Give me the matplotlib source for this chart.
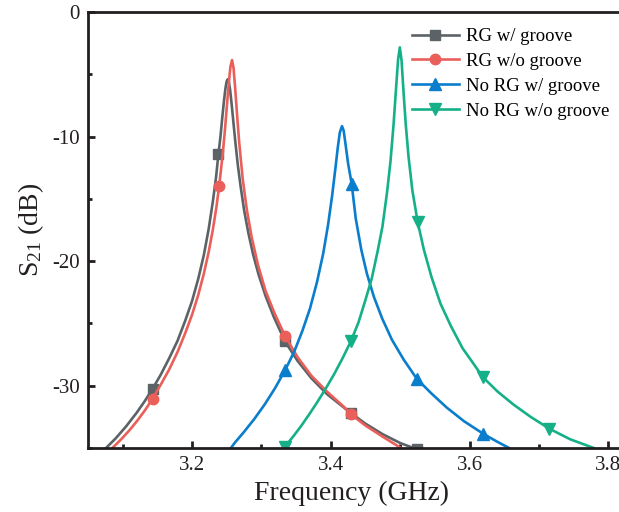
import numpy as np
import matplotlib.pyplot as plt
from matplotlib.ticker import MultipleLocator

plt.rcParams['font.family'] = ['Liberation Serif', 'DejaVu Serif']
plt.rcParams['mathtext.fontset'] = 'stix'
plt.rcParams['axes.unicode_minus'] = False

# RG w/ groove
rg_groove_f = [3.076, 3.09, 3.105, 3.12, 3.132, 3.143, 3.155, 3.167, 3.179, 3.19,
               3.20, 3.209, 3.217, 3.224, 3.230, 3.2345, 3.238, 3.241, 3.2435, 3.246,
               3.248, 3.2498, 3.2514, 3.253, 3.2548, 3.257, 3.2595, 3.2625, 3.266, 3.27,
               3.275, 3.281, 3.288, 3.296, 3.306, 3.318, 3.334, 3.352, 3.372, 3.395,
               3.42, 3.429, 3.45, 3.475, 3.50, 3.524]
rg_groove_db = [-35.0, -34.22, -33.26, -32.18, -31.22, -30.25, -29.1, -27.8, -26.4, -24.8,
                -23.2, -21.4, -19.5, -17.4, -15.2, -13.3, -11.4, -9.98, -8.5, -7.14,
                -6.18, -5.58, -5.4, -5.6, -6.23, -7.37, -8.8, -10.5, -12.3, -14.0,
                -15.9, -17.7, -19.46, -21.1, -22.8, -24.5, -26.45, -28.0, -29.4, -30.7,
                -31.8, -32.2, -33.05, -33.9, -34.6, -35.1]

# RG w/o groove
rg_nogroove_f = [3.0857, 3.098, 3.11, 3.122, 3.133, 3.143, 3.155, 3.167, 3.179, 3.19,
                 3.20, 3.209, 3.217, 3.224, 3.23, 3.235, 3.239, 3.2442, 3.2475, 3.2505,
                 3.253, 3.2553, 3.2576, 3.2598, 3.2622, 3.265, 3.268, 3.273, 3.279, 3.286,
                 3.295, 3.306, 3.319, 3.334, 3.352, 3.372, 3.395, 3.42, 3.429, 3.45,
                 3.475, 3.501]
rg_nogroove_db = [-34.97, -34.29, -33.56, -32.74, -31.9, -31.05, -29.9, -28.7, -27.3, -25.8,
                  -24.3, -22.7, -21.0, -19.25, -17.46, -15.7, -14.0, -11.4, -9.4, -7.34,
                  -5.67, -4.39, -3.86, -4.5, -6.16, -8.35, -10.5, -13.4, -15.9, -18.1,
                  -20.3, -22.4, -24.2, -26.0, -27.7, -29.2, -30.5, -31.75, -32.3, -33.2,
                  -34.1, -35.0]

# No RG w/ groove
norg_groove_f = [3.256, 3.262, 3.275, 3.29, 3.305, 3.32, 3.334, 3.347, 3.359, 3.37,
                 3.38, 3.389, 3.396, 3.402, 3.4065, 3.41, 3.413, 3.4161, 3.4185, 3.4215,
                 3.425, 3.430, 3.436, 3.444, 3.452, 3.462, 3.474, 3.488, 3.505, 3.524,
                 3.545, 3.567, 3.592, 3.620, 3.64, 3.657]
norg_groove_db = [-35.0, -34.55, -33.7, -32.65, -31.48, -30.16, -28.76, -27.3, -25.6, -23.8,
                  -21.7, -19.4, -17.1, -14.7, -12.6, -10.9, -9.67, -9.16, -9.52, -10.73,
                  -12.2, -13.77, -16.6, -19.1, -21.0, -22.85, -24.6, -26.3, -27.9, -29.45,
                  -30.62, -31.75, -32.85, -33.87, -34.5, -35.0]

# No RG w/o groove
norg_nogroove_f = [3.334, 3.346, 3.357, 3.368, 3.38, 3.393, 3.405, 3.417, 3.429, 3.44,
                   3.45, 3.459, 3.4675, 3.4745, 3.481, 3.486, 3.4905, 3.4942, 3.497, 3.4995,
                   3.502, 3.5048, 3.508, 3.512, 3.5175, 3.5252, 3.534, 3.545, 3.558, 3.573,
                   3.59, 3.604, 3.619, 3.64, 3.663, 3.688, 3.715, 3.745, 3.779]
norg_nogroove_db = [-34.89, -34.06, -33.25, -32.37, -31.36, -30.2, -29.05, -27.79, -26.42, -24.9,
                    -23.1, -21.4, -19.2, -17.2, -14.5, -12.0, -9.0, -6.0, -3.8, -2.84,
                    -3.9, -6.4, -9.0, -11.6, -14.3, -16.86, -19.05, -21.25, -23.4, -25.2,
                    -27.0, -28.1, -29.3, -30.45, -31.5, -32.5, -33.45, -34.3, -35.0]

# frequencies where the symbols sit
rg_groove_marks = [3.143, 3.238, 3.334, 3.429, 3.524]
rg_nogroove_marks = [3.143, 3.239, 3.334, 3.429]
norg_groove_marks = [3.334, 3.430, 3.524, 3.620]
norg_nogroove_marks = [3.334, 3.429, 3.5252, 3.619, 3.715]

labels = ['RG w/ groove', 'RG w/o groove', 'No RG w/ groove', 'No RG w/o groove']
colors = ['#5b6367', '#ea5f5a', '#0a7dcc', '#16b088']

series = [
    (rg_groove_f, rg_groove_db, rg_groove_marks, 's', 6.5),
    (rg_nogroove_f, rg_nogroove_db, rg_nogroove_marks, 'o', 7.5),
    (norg_groove_f, norg_groove_db, norg_groove_marks, '^', 8.5),
    (norg_nogroove_f, norg_nogroove_db, norg_nogroove_marks, 'v', 8.5),
]

fig = plt.figure(figsize=(6.19, 5.12), dpi=100)
ax = fig.add_axes([88 / 619, 64 / 512, 555 / 619, 436 / 512])

for (f, db, marks, mk, ms), color, label in zip(series, colors, labels):
    f = np.array(f)
    idx = [int(np.argmin(np.abs(f - m))) for m in marks]
    ax.plot(f, db, color=color, lw=1.9, marker=mk, ms=ms, markevery=idx,
            label=label, solid_joinstyle='round')

ax.set_xlim(3.05, 3.85)
ax.set_ylim(-35, 0)
ax.xaxis.set_major_locator(MultipleLocator(0.2))
ax.xaxis.set_minor_locator(MultipleLocator(0.1))
ax.set_yticks([0, -10, -20, -30])
ax.yaxis.set_minor_locator(MultipleLocator(5))

for s in ax.spines.values():
    s.set_linewidth(2)
    s.set_color('#231f20')
ax.tick_params(which='both', direction='in', top=False, right=False,
               width=2, color='#231f20', labelsize=15, labelcolor='#231f20', pad=6)
ax.tick_params(which='major', length=5)
ax.tick_params(which='minor', length=3)

ax.set_xlabel('Frequency (GHz)', fontsize=20, color='#231f20')
ax.set_ylabel(r'$\mathregular{S_{21}}$ (dB)', fontsize=20, color='#231f20')
ax.xaxis.label.set_va('center')
ax.xaxis.set_label_coords(0.474, -0.105)
ax.yaxis.label.set_va('center')
ax.yaxis.set_label_coords(-0.103, 0.5)

ax.legend(loc='upper left', bbox_to_anchor=(412 / 619, 1 - 28 / 512),
          bbox_transform=fig.transFigure, frameon=False, fontsize=13.5,
          handlelength=2.5, handletextpad=0.4, labelspacing=0.41,
          borderpad=0, borderaxespad=0)

fig.savefig('out.png', dpi=100)
